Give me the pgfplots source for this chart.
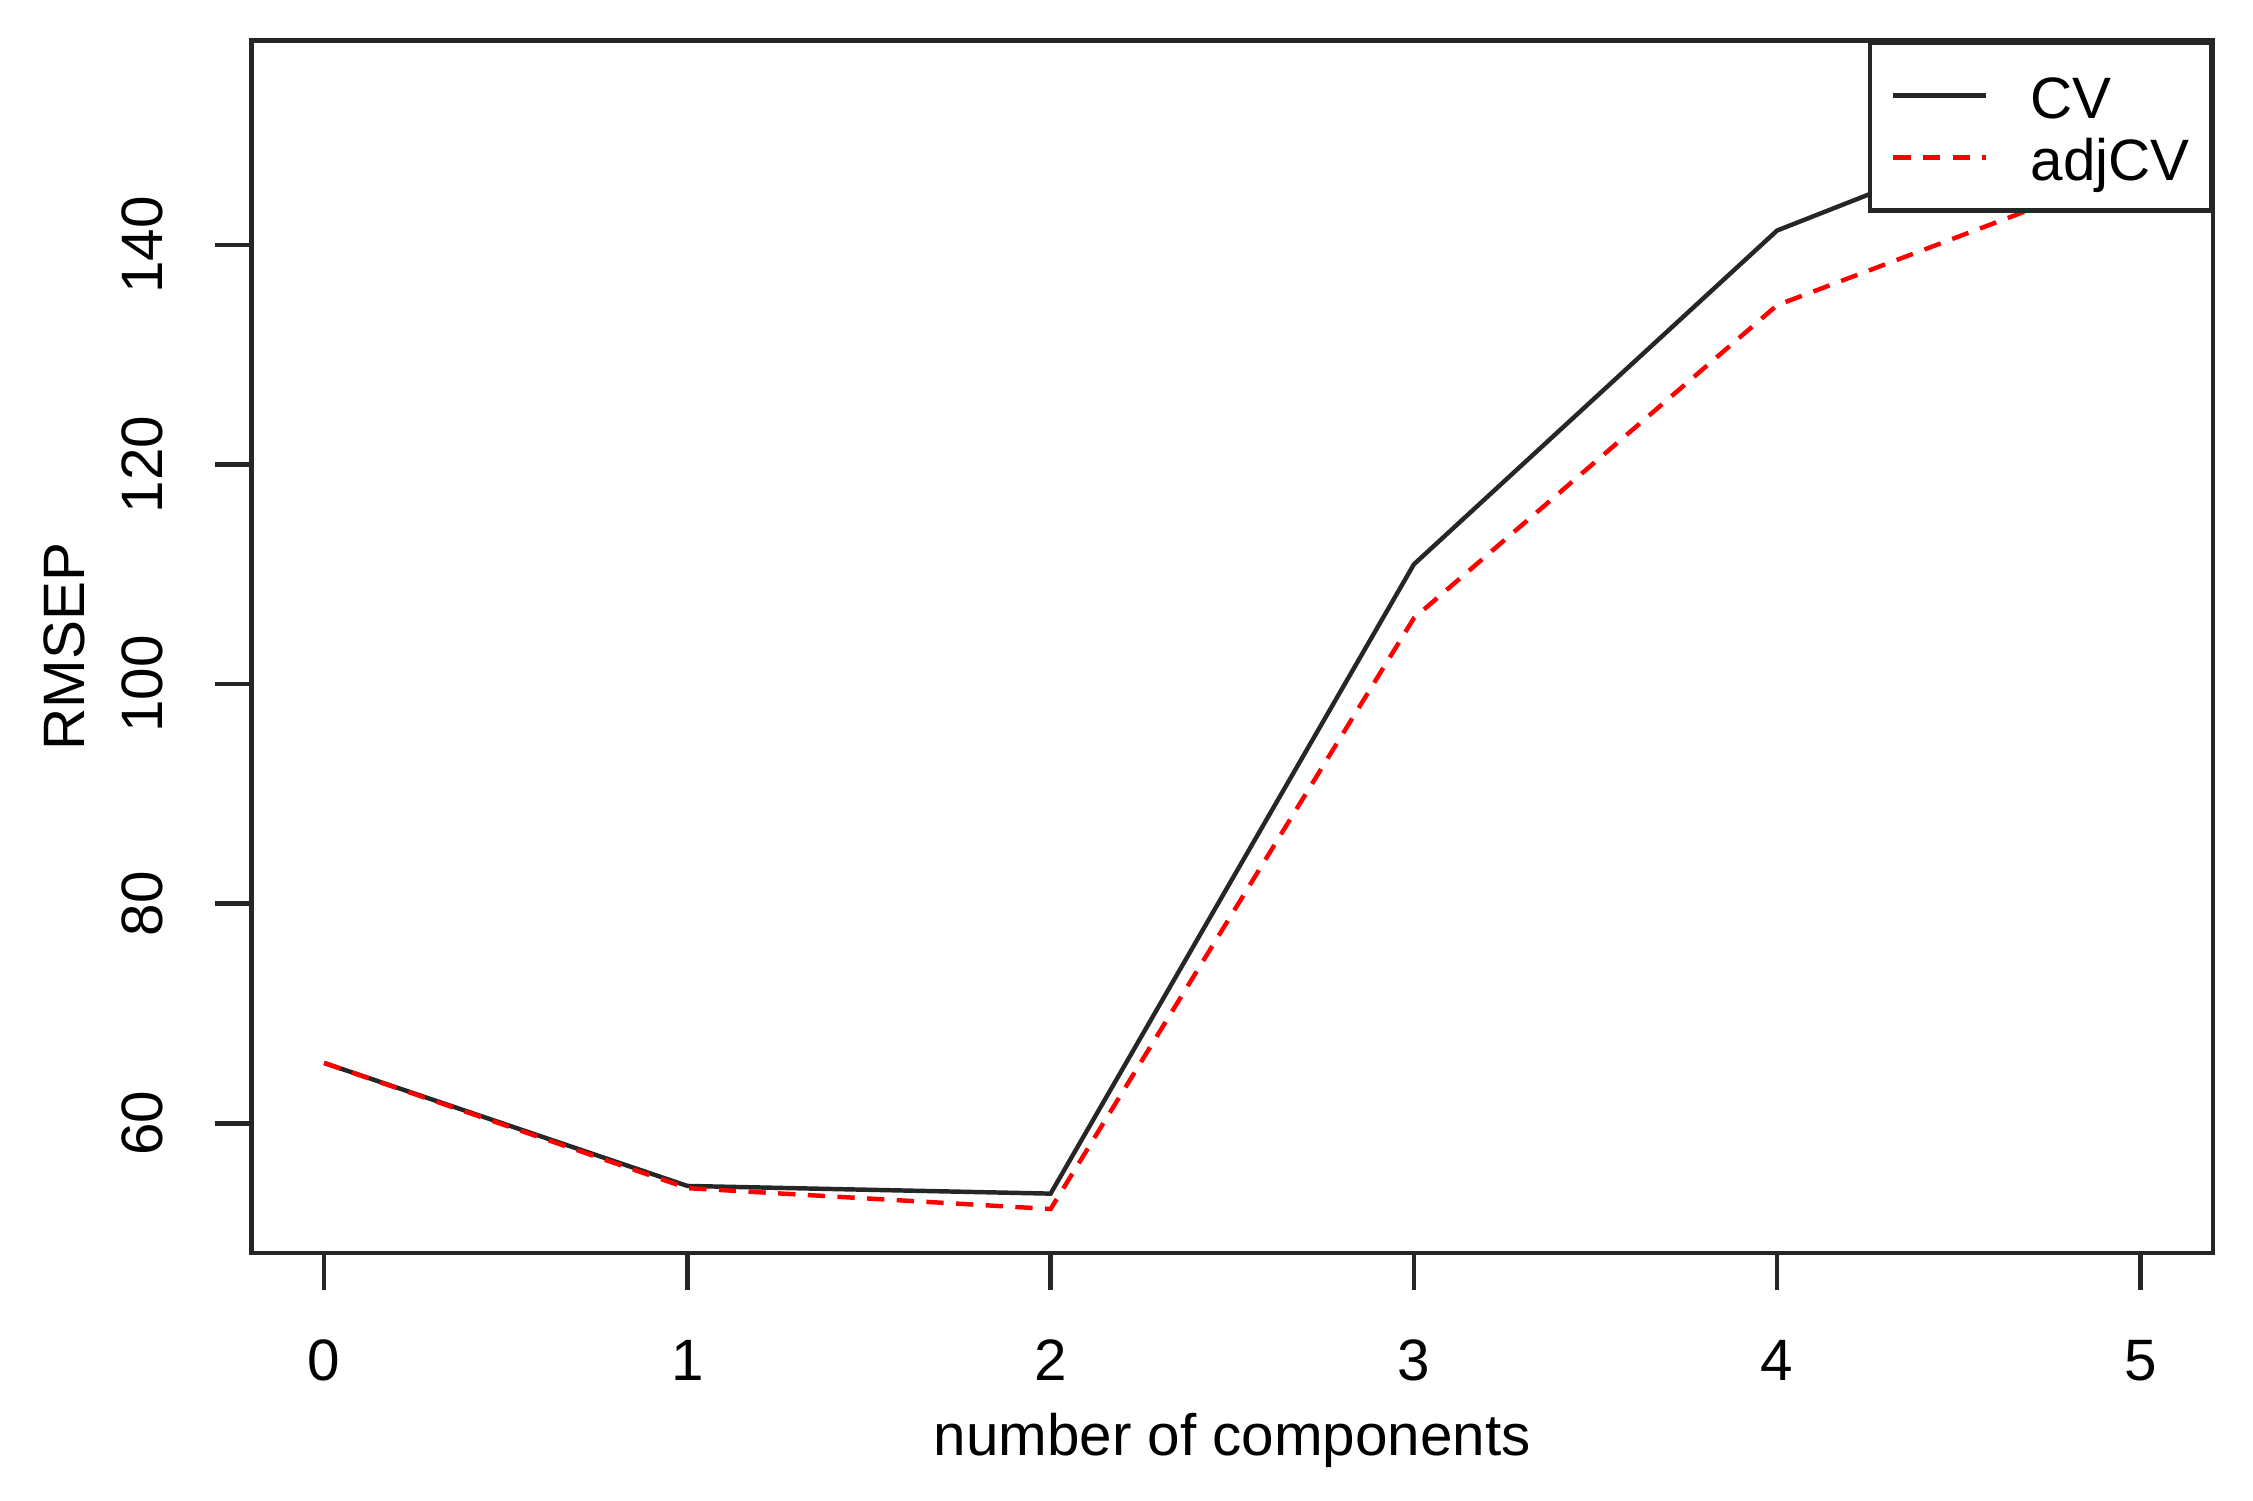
\documentclass[border=0pt]{standalone}
\usepackage{fontspec}
\setmainfont{Liberation Sans}
\usepackage{pgfplots}
\pgfplotsset{compat=1.18}
\begin{document}
\begin{tikzpicture}
\path[use as bounding box] (-1.786,-1.755) rectangle (14.214,8.898);
\begin{axis}[
  at={(0,0)}, anchor=south west,
  scale only axis, width=13.93cm, height=8.61cm,
  xmin=-0.2, xmax=5.2, ymin=48.2, ymax=158.6,
  xtick={0,1,2,3,4,5}, ytick={60,80,100,120,140},
  tick align=outside, major tick length=0.26cm,
  xtick pos=bottom, ytick pos=left,
  axis line style={line width=0.9pt, black!85},
  every tick/.style={black!85, line width=0.9pt},
  font=\fontsize{11.8}{14}\selectfont,
  /pgf/number format/assume math mode=true,
  xticklabel style={anchor=north, inner sep=0pt},
  xticklabel shift=0.35cm,
  yticklabel style={rotate=90, anchor=south, inner sep=0pt},
  yticklabel shift=0.36cm,
  xlabel={number of components}, ylabel={RMSEP},
  xlabel style={at={(axis description cs:0.5,-0.155)}, anchor=center, inner sep=0pt},
  ylabel style={at={(axis description cs:-0.0952,0.5)}, anchor=center, inner sep=0pt, rotate=0},
  legend style={at={(1,1)}, anchor=north east, draw=black!85, line width=0.9pt,
    inner xsep=0.15cm, inner ysep=0.2cm, row sep=0.09cm, column sep=0.3cm,
    nodes={inner sep=0pt, text height=0.34cm, text depth=0.01cm, font=\fontsize{11.8}{14}\selectfont}},
  legend cell align=left,
  legend image code/.code={\draw[#1] (0cm,0cm) -- (0.66cm,0cm);},
]
\addplot[black!85, line width=0.9pt] coordinates {
  (0,65.5) (1,54.3) (2,53.6) (3,110.9) (4,141.3) (5,154.3)
};
\addlegendentry{CV}
\addplot[red, line width=0.9pt, dash pattern=on 3.5pt off 2.5pt] coordinates {
  (0,65.5) (1,54.1) (2,52.2) (3,106.0) (4,134.5) (5,147.0)
};
\addlegendentry{adjCV}
\end{axis}
\end{tikzpicture}
\end{document}
